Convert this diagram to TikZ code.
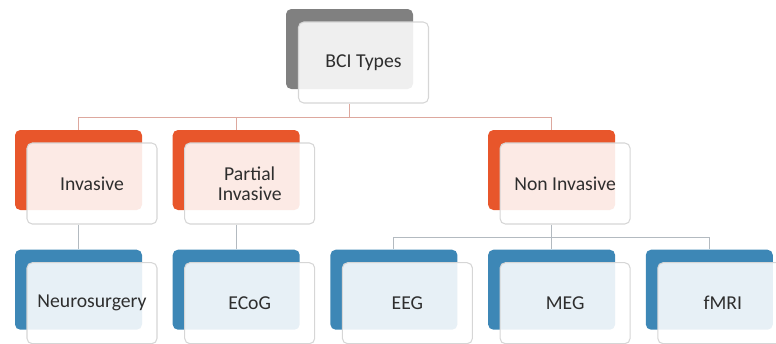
\documentclass[tikz,border=0pt]{standalone}
\usepackage{fontspec}
\setmainfont{Carlito}
\usepackage{xcolor}
\usetikzlibrary{positioning, calc}

\definecolor{grayback}{HTML}{808080}
\definecolor{orangeback}{HTML}{E8562B}
\definecolor{blueback}{HTML}{3D87B6}
\definecolor{frontline}{HTML}{D6D6D6}
\definecolor{toplink}{HTML}{DDA89E}
\definecolor{sublink}{HTML}{B3BAC0}
\definecolor{labeltext}{HTML}{2E2E2E}

\begin{document}
\begin{tikzpicture}[
  back/.style={rounded corners=3pt, minimum width=2.54cm, minimum height=1.6cm, inner sep=0pt},
  front/.style={draw=frontline, line width=0.6pt, rounded corners=3pt, fill=white, fill opacity=0.88, text opacity=1,
    minimum width=2.6cm, minimum height=1.62cm, inner sep=0pt, align=center,
    font=\fontsize{11.2}{11.6}\selectfont, text=labeltext},
  link/.style={line width=0.6pt}
]
  \useasboundingbox (0,0) rectangle (15.52,-6.86);
  \clip (0,0) rectangle (15.52,-6.86);

  % back boxes
  \node[back, fill=grayback] (bciB) at (6.99,-0.98) {};
  \node[back, fill=orangeback] (invB) at (1.57,-3.4) {};
  \node[back, fill=orangeback, right=0.6 of invB] (parB) {};
  \node[back, fill=blueback, below=0.78 of invB] (neuB) {};
  \node[back, fill=blueback, below=0.78 of parB] (ecoB) {};
  \node[back, fill=blueback, right=0.6 of ecoB] (eegB) {};
  \node[back, fill=blueback, right=0.6 of eegB] (megB) {};
  \node[back, fill=blueback, right=0.6 of megB] (fmrB) {};
  \node[back, fill=orangeback, above=0.78 of megB] (nonB) {};

  % front boxes
  \node[front] (bci) at ([shift={(0.28,-0.27)}]bciB) {BCI Types};
  \node[front] (inv) at ([shift={(0.27,-0.27)}]invB) {Invasive};
  \node[front] (par) at ([shift={(0.27,-0.27)}]parB) {Partial\\Invasive};
  \node[front] (non) at ([shift={(0.27,-0.27)}]nonB) {Non Invasive};
  \node[front] (neu) at ([shift={(0.27,-0.27)}]neuB) {Neurosurgery};
  \node[front] (eco) at ([shift={(0.27,-0.27)}]ecoB) {ECoG};
  \node[front] (eeg) at ([shift={(0.27,-0.27)}]eegB) {EEG};
  \node[front] (meg) at ([shift={(0.27,-0.27)}]megB) {MEG};
  \node[front] (fmr) at ([shift={(0.27,-0.27)}]fmrB) {fMRI};

  % connectors
  \draw[link, toplink] (bciB |- bci.south) -- ++(0,-0.27) coordinate (bciJ);
  \draw[link, toplink] (bciJ) -| (invB.north);
  \draw[link, toplink] (bciJ) -| (parB.north);
  \draw[link, toplink] (bciJ) -| (nonB.north);
  \draw[link, sublink] (invB |- inv.south) -- (neuB.north);
  \draw[link, sublink] (parB |- par.south) -- (ecoB.north);
  \draw[link, sublink] (nonB |- non.south) -- ++(0,-0.26) coordinate (nonJ);
  \draw[link, sublink] (nonJ) -| (eegB.north);
  \draw[link, sublink] (nonJ) -| (megB.north);
  \draw[link, sublink] (nonJ) -| (fmrB.north);
\end{tikzpicture}
\end{document}
